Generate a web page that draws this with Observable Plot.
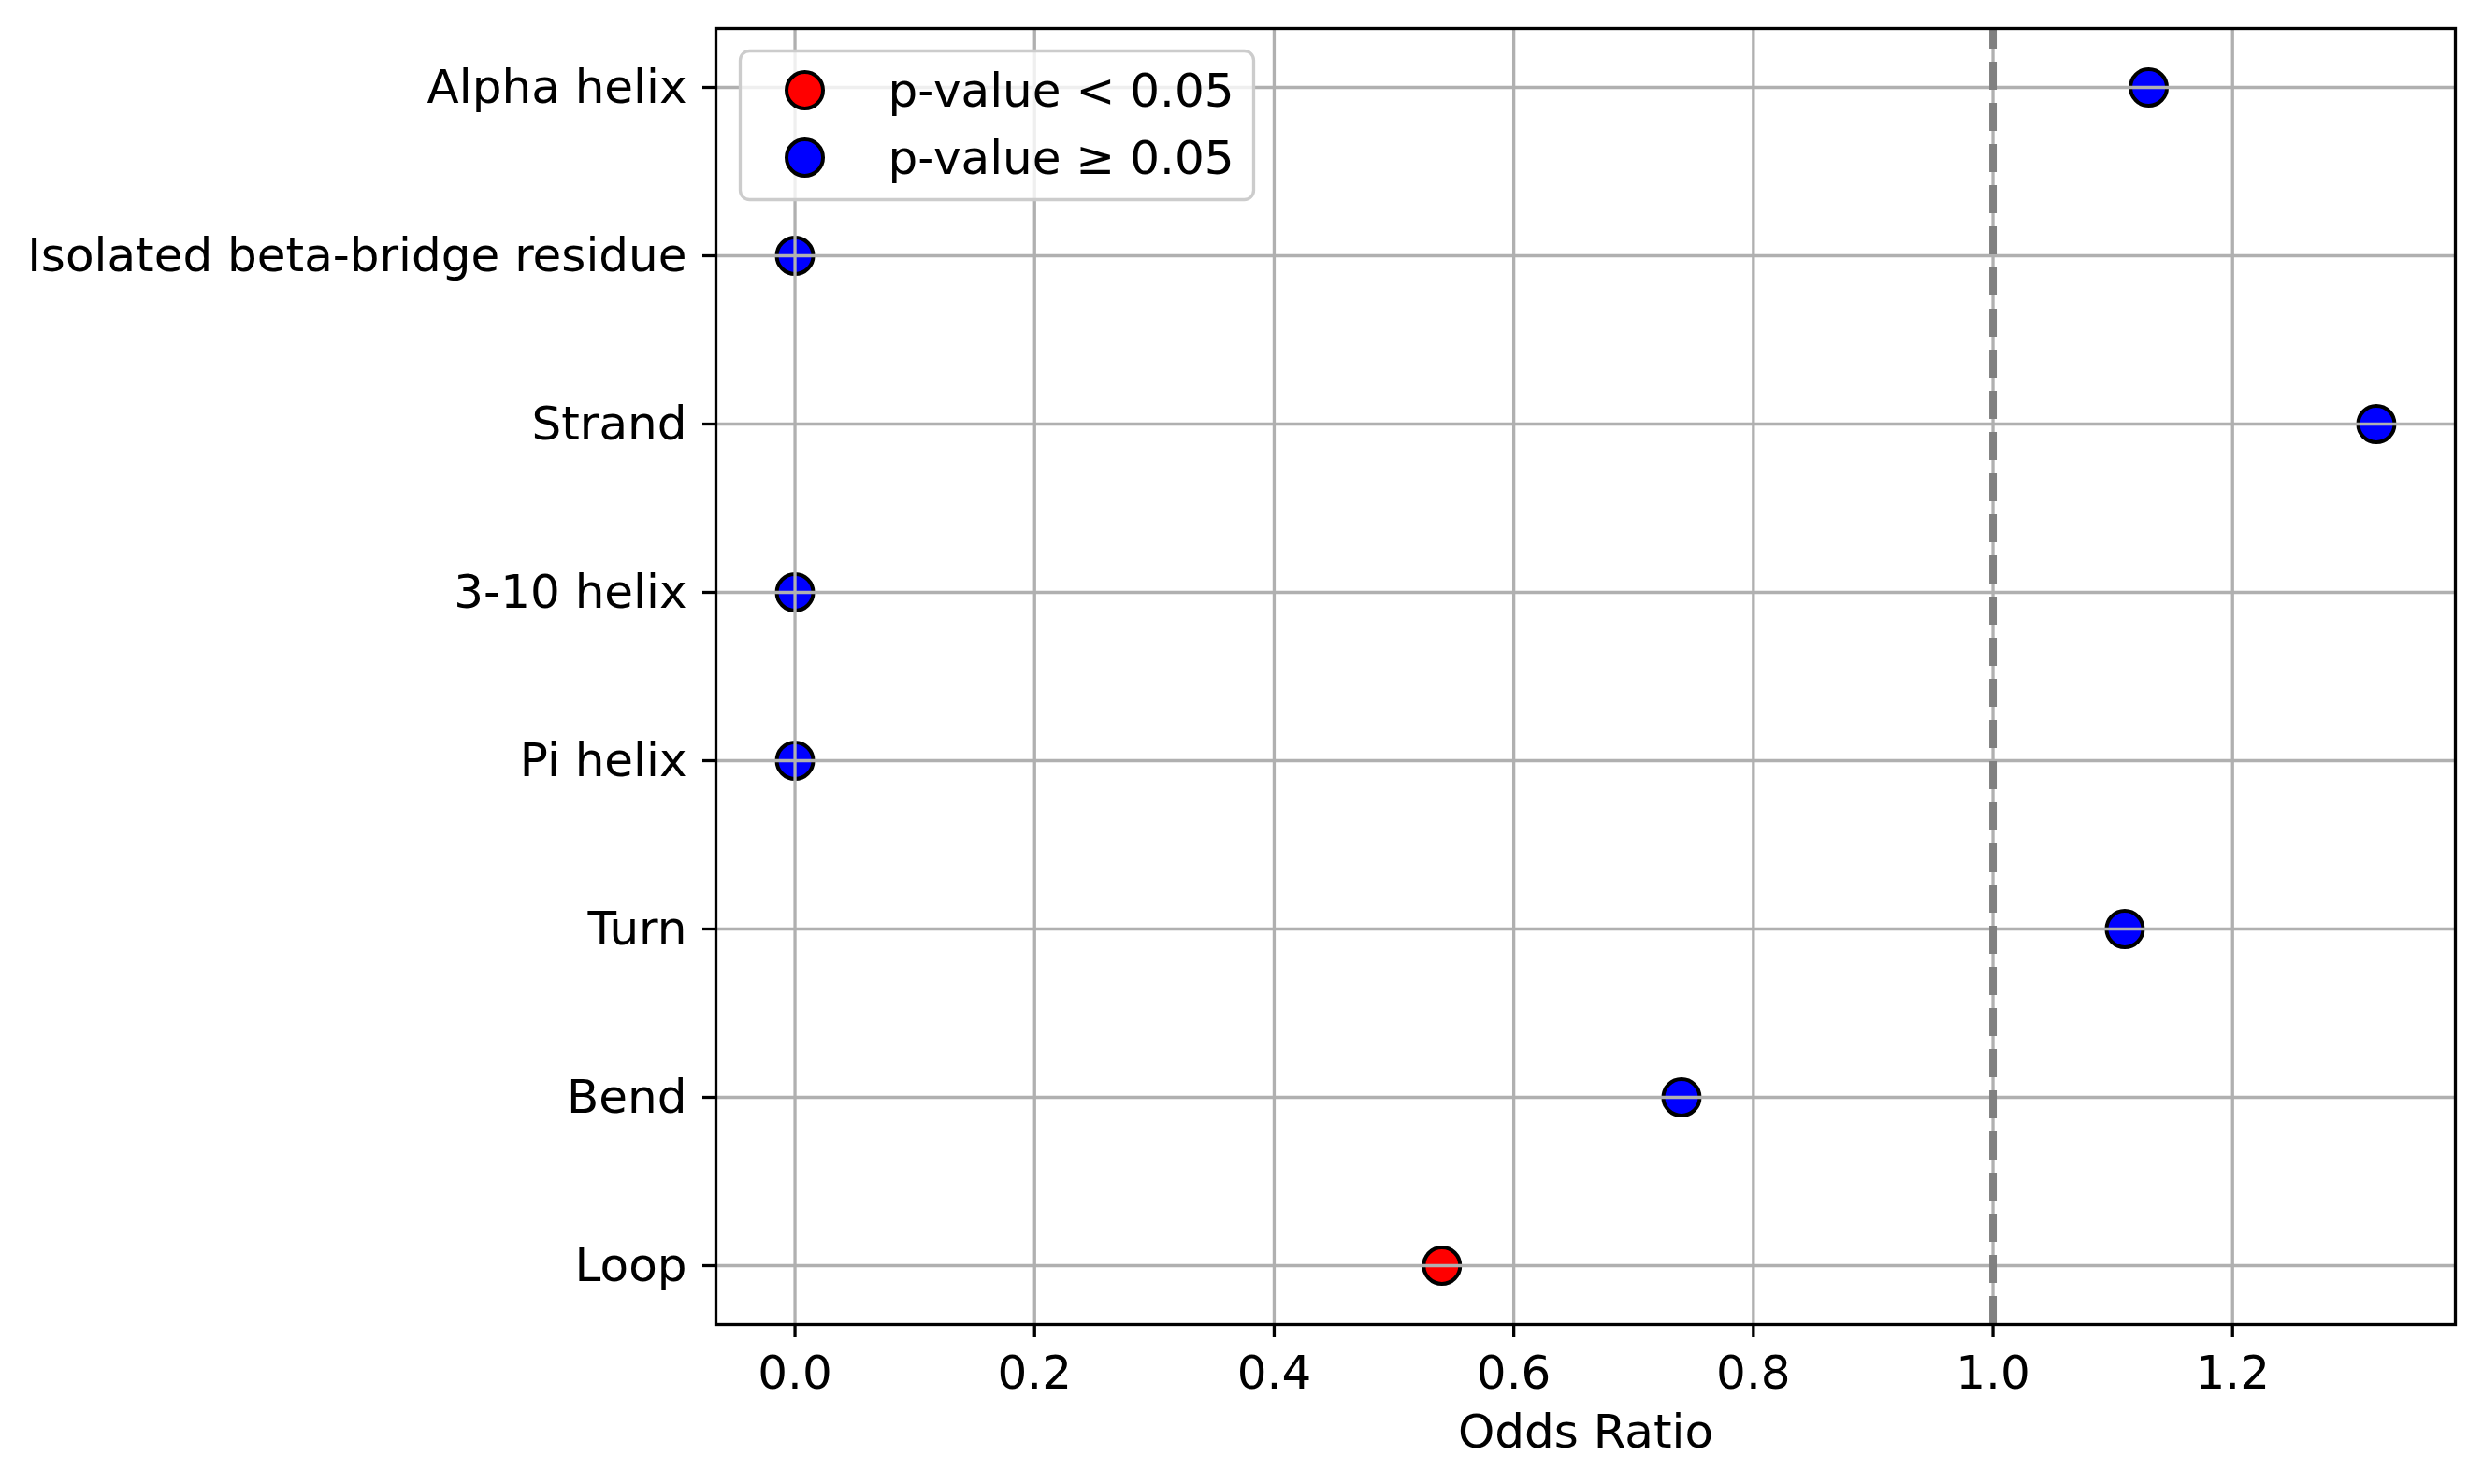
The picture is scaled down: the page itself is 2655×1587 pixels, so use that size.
<!DOCTYPE html>
<html>
<head>
<meta charset="utf-8">
<script src="https://cdn.jsdelivr.net/npm/d3@7"></script>
<script src="https://cdn.jsdelivr.net/npm/@observablehq/plot@0.6"></script>
<style>
  html, body { margin: 0; padding: 0; background: #ffffff; }
  #chart svg { display: block; }
</style>
</head>
<body>
<div id="chart"></div>
<script>
// ---- data ----
const categories = ["Alpha helix", "Isolated beta-bridge residue", "Strand", "3-10 helix", "Pi helix", "Turn", "Bend", "Loop"];
const oddsRatios = [1.13, 0, 1.32, 0, 0, 1.11, 0.74, 0.54];
const significant = [false, false, false, false, false, false, false, true];
const xTicks = [0, 0.2, 0.4, 0.6, 0.8, 1.0, 1.2];
const referenceLine = [1];
const legendLabels = ["p-value < 0.05", "p-value \u2265 0.05"];
const legendColors = ["red", "blue"];
const xLabel = "Odds Ratio";

const rows = categories.map((c, i) => ({
  category: c,
  or: oddsRatios[i],
  color: significant[i] ? legendColors[0] : legendColors[1]
}));

const xmin = Math.min(0, d3.min(oddsRatios));
const xmax = d3.max(oddsRatios);
const pad = 0.05 * (xmax - xmin);

const FS = 50;
const GRID = "#b0b0b0";
const LW = 3.3;

const legendMarks = legendLabels.flatMap((label, i) => [
  Plot.dot([label], {
    frameAnchor: "top-left", dx: 95, dy: 66 + 72 * i,
    r: 19.5, fill: legendColors[i], stroke: "black", strokeWidth: 4
  }),
  Plot.text([label], {
    frameAnchor: "top-left", dx: 184, dy: 67 + 72 * i,
    text: d => d, textAnchor: "start", lineAnchor: "middle",
    fontSize: FS, fill: "black"
  })
]);

const chart = Plot.plot({
  width: 2655,
  height: 1587,
  marginLeft: 765,
  marginRight: 30,
  marginTop: 30,
  marginBottom: 171,
  style: { fontFamily: "DejaVu Sans", fontSize: FS + "px", color: "black", background: "white" },
  x: { domain: [xmin - pad, xmax + pad], nice: false, label: null },
  y: { type: "point", domain: categories, padding: 0.35, round: false, label: null },
  marks: [
    Plot.dot(rows, { x: "or", y: "category", r: 19.5, fill: "color", stroke: "black", strokeWidth: 4 }),
    Plot.gridX({ ticks: xTicks, stroke: GRID, strokeOpacity: 1, strokeWidth: LW }),
    Plot.gridY({ stroke: GRID, strokeOpacity: 1, strokeWidth: LW }),
    Plot.ruleX(referenceLine, { stroke: "#808080", strokeWidth: 8, strokeDasharray: "30,14", strokeDashoffset: 8 }),
    Plot.frame({
      fill: "white", fillOpacity: 0.8, stroke: "#cccccc", strokeWidth: 3.3, rx: 10,
      insetLeft: 26, insetTop: 24, insetRight: 1285, insetBottom: 1203
    }),
    ...legendMarks,
    Plot.frame({ stroke: "black", strokeWidth: LW }),
    Plot.axisX({
      ticks: xTicks, tickFormat: d3.format(".1f"), tickSize: 14, tickPadding: 19,
      fontSize: FS, strokeWidth: LW, label: null
    }),
    Plot.axisY({
      tickSize: 14, tickPadding: 17, fontSize: FS, strokeWidth: LW, label: null
    }),
    Plot.text([xLabel], {
      frameAnchor: "bottom", dy: 96, text: d => d, lineAnchor: "top",
      fontSize: FS, fill: "black"
    })
  ]
});

document.getElementById("chart").appendChild(chart);
</script>
</body>
</html>
